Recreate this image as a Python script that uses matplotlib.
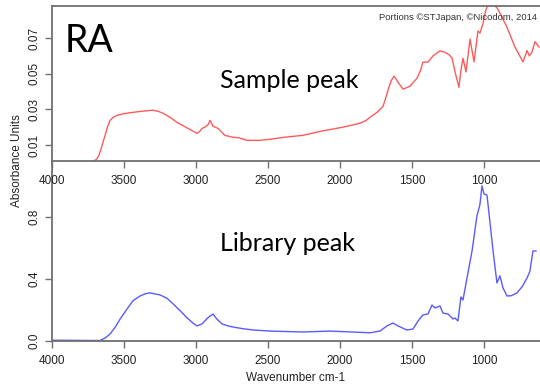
import matplotlib
matplotlib.use("Agg")
import matplotlib.pyplot as plt

# --- sample spectrum (red, top) ---
sample_wn = [3715, 3690, 3674, 3640, 3615, 3597, 3575, 3549, 3500, 3437, 3380, 3299,
             3260, 3229, 3180, 3132, 3060, 2993, 2975, 2958, 2938, 2915, 2903, 2892,
             2882, 2847, 2820, 2799, 2743, 2700, 2646, 2556, 2486, 2400, 2257, 2139,
             1979, 1861, 1820, 1792, 1740, 1701, 1680, 1667, 1645, 1625, 1610, 1597,
             1562, 1514, 1465, 1440, 1424, 1389, 1354, 1306, 1271, 1240, 1222, 1201,
             1174, 1160, 1146, 1125, 1097, 1069, 1042, 1028, 1007, 990, 972, 937,
             910, 889, 840, 785, 729, 701, 685, 667, 646, 618]
sample_abs = [0.0008, 0.002, 0.004, 0.013, 0.020, 0.0238, 0.0255, 0.0266, 0.0276,
              0.0283, 0.0289, 0.0295, 0.0288, 0.0278, 0.0255, 0.0227, 0.0195, 0.0165,
              0.0175, 0.0193, 0.020, 0.0215, 0.0238, 0.0222, 0.0205, 0.0193, 0.017,
              0.0154, 0.0143, 0.0140, 0.0126, 0.0126, 0.0132, 0.0142, 0.0154, 0.0176,
              0.020, 0.0222, 0.0237, 0.0255, 0.0285, 0.0317, 0.037, 0.0407, 0.046,
              0.0486, 0.047, 0.0452, 0.0413, 0.043, 0.0475, 0.052, 0.0565, 0.0565,
              0.060, 0.0628, 0.062, 0.0605, 0.0588, 0.051, 0.0424, 0.052, 0.0587,
              0.051, 0.0694, 0.0566, 0.074, 0.0728, 0.078, 0.085, 0.089, 0.089, 0.087,
              0.084, 0.076, 0.065, 0.0566, 0.063, 0.060, 0.062, 0.068, 0.065]

# --- library spectrum (blue, bottom) ---
library_wn = [4000, 3826, 3667, 3630, 3597, 3560, 3528, 3480, 3437, 3389, 3350, 3319,
              3250, 3200, 3160, 3110, 3063, 3020, 2993, 2958, 2917, 2882, 2854, 2819,
              2780, 2743, 2680, 2604, 2486, 2257, 2069, 1792, 1722, 1674, 1632, 1597,
              1535, 1493, 1458, 1424, 1389, 1361, 1340, 1306, 1285, 1250, 1215, 1201,
              1181, 1160, 1146, 1118, 1083, 1049, 1028, 1014, 1000, 979, 965, 937,
              910, 889, 868, 840, 810, 771, 735, 701, 681, 660, 639]
library_abs = [0.005, 0.004, 0.003, 0.02, 0.045, 0.09, 0.14, 0.205, 0.26, 0.29, 0.305,
               0.31, 0.297, 0.275, 0.24, 0.195, 0.15, 0.115, 0.097, 0.11, 0.15, 0.174,
               0.14, 0.11, 0.098, 0.09, 0.08, 0.071, 0.064, 0.058, 0.064, 0.053, 0.064,
               0.097, 0.116, 0.097, 0.071, 0.077, 0.129, 0.168, 0.174, 0.232, 0.213,
               0.226, 0.18, 0.174, 0.142, 0.148, 0.129, 0.284, 0.264, 0.406, 0.58,
               0.806, 0.88, 1.0, 0.948, 0.94, 0.82, 0.58, 0.374, 0.42, 0.342, 0.29,
               0.292, 0.31, 0.35, 0.406, 0.45, 0.58, 0.58]

x_ticks = [4000, 3500, 3000, 2500, 2000, 1500, 1000]
top_yticks = [0.01, 0.03, 0.05, 0.07]
bottom_yticks = [0.0, 0.4, 0.8]

W, H = 540, 385
spine_col = '#707070'
tick_font = {'family': ['Liberation Sans', 'DejaVu Sans'], 'size': 8.5, 'color': '#222222'}

fig = plt.figure(figsize=(W / 100, H / 100), dpi=100)

def px_axes(x0, y0, x1, y1):
    return [x0 / W, 1 - y1 / H, (x1 - x0) / W, (y1 - y0) / H]

ax_lib = fig.add_axes(px_axes(52, 161, 540, 341))
ax_lib.patch.set_visible(False)
ax_top = fig.add_axes(px_axes(52, 6, 540, 161))
ax_top.patch.set_visible(False)

ax_top.plot(sample_wn, sample_abs, color='#FF5A5A', linewidth=1.0)
ax_top.set_xlim(4000, 611)
ax_top.set_ylim(0.001, 0.088)
ax_top.set_xticks(x_ticks)
ax_top.set_yticks(top_yticks)
ax_top.set_yticklabels(['0.01', '0.03', '0.05', '0.07'], rotation=90, va='center', **tick_font)
ax_top.set_xticklabels([str(v) for v in x_ticks], **tick_font)

ax_lib.plot(library_wn, library_abs, color='#5A5AFF', linewidth=1.0)
ax_lib.set_xlim(4000, 611)
ax_lib.set_ylim(0.0, 1.16)
ax_lib.set_xticks(x_ticks)
ax_lib.set_yticks(bottom_yticks)
ax_lib.set_yticklabels(['0.0', '0.4', '0.8'], rotation=90, va='center', **tick_font)
ax_lib.set_xticklabels([str(v) for v in x_ticks], **tick_font)
ax_lib.set_xlabel('Wavenumber cm-1', fontdict=tick_font, labelpad=4)

for ax in (ax_top, ax_lib):
    ax.spines['right'].set_visible(False)
    for s in ('left', 'bottom', 'top'):
        ax.spines[s].set_color(spine_col)
        ax.spines[s].set_linewidth(1.3)
    ax.tick_params(axis='both', colors=spine_col, length=5, width=1)
    ax.tick_params(axis='x', pad=5)
    ax.tick_params(axis='y', pad=3)
    ax.tick_params(axis='both', labelcolor='#222222')
ax_lib.spines['top'].set_visible(False)

fig.text(17 / W, 1 - 161 / H, 'Absorbance Units', rotation=90, ha='center', va='center',
         fontdict=tick_font)

ax_top.text(0.025, 0.89, 'RA', transform=ax_top.transAxes, ha='left', va='top',
            fontsize=27, family=['Lato', 'DejaVu Sans'], color='black')
ax_top.text(0.345, 0.52, 'Sample peak', transform=ax_top.transAxes, ha='left', va='center',
            fontsize=18, family=['Lato', 'DejaVu Sans'], color='black')
ax_lib.text(0.345, 0.54, 'Library peak', transform=ax_lib.transAxes, ha='left', va='center',
            fontsize=18, family=['Lato', 'DejaVu Sans'], color='black')
fig.text(537 / W, 1 - 17 / H, 'Portions \u00a9STJapan, \u00a9Nicodom, 2014', ha='right',
         va='center', family=['Liberation Sans', 'DejaVu Sans'], fontsize=6.8, color='#333333')

fig.savefig('out.png', dpi=100)
